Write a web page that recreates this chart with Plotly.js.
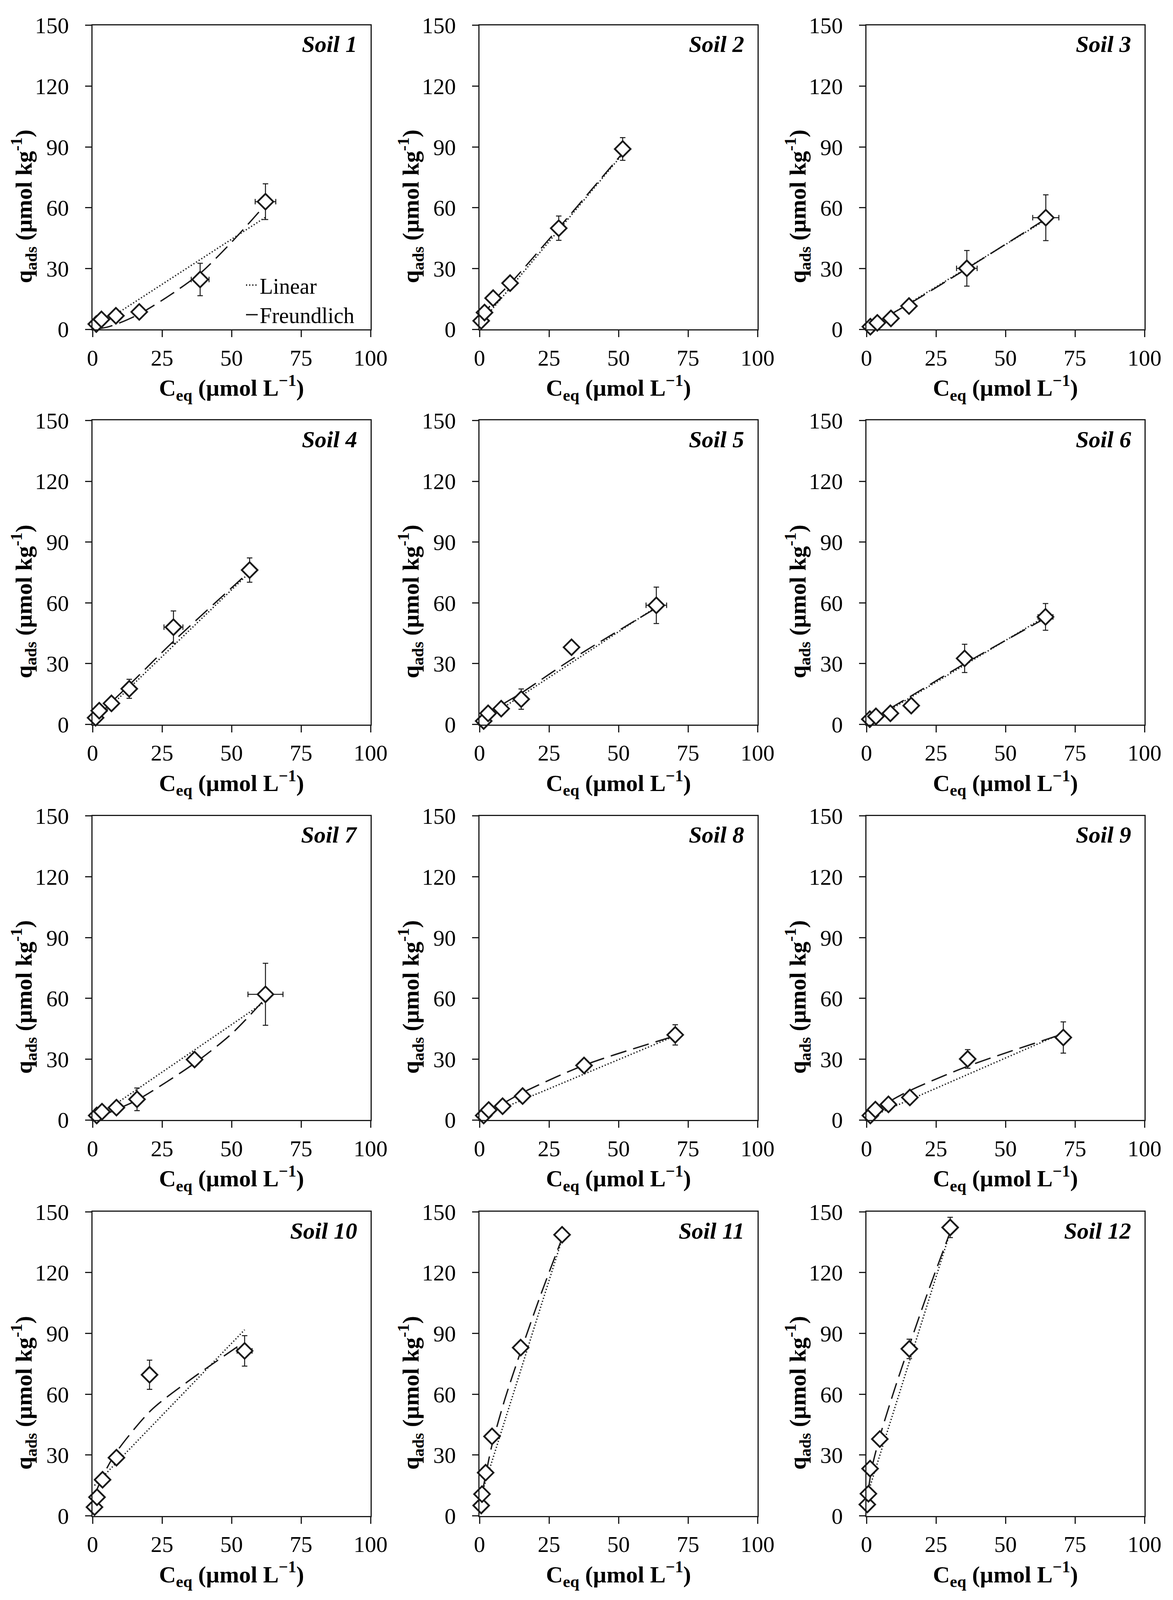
<!DOCTYPE html>
<html>
<head>
<meta charset="utf-8">
<script src="https://cdn.plot.ly/plotly-3.0.1.min.js"></script>
<style>
  html, body { margin: 0; background: white; overflow: hidden; }
</style>
</head>
<body>
<div id="chart"></div>
<script>
// values, one inner list per soil (Soil 1 .. Soil 12)
var soilNames = ['Soil 1', 'Soil 2', 'Soil 3', 'Soil 4', 'Soil 5', 'Soil 6',
                 'Soil 7', 'Soil 8', 'Soil 9', 'Soil 10', 'Soil 11', 'Soil 12'];

// measured points: Ceq (umol/L) and q_ads (umol/kg)
var ceqData = [
    [1.35, 3.2, 8.4, 16.8, 38.7, 62.2],
    [0.6, 1.8, 4.9, 11.0, 28.5, 51.5],
    [1.4, 3.9, 8.8, 15.3, 36.1, 64.5],
    [1.1, 2.4, 6.8, 13.2, 29.1, 56.5],
    [1.5, 3.1, 7.8, 15.0, 33.1, 63.6],
    [1.2, 3.4, 8.6, 16.1, 35.3, 64.4],
    [1.5, 3.4, 8.6, 16.0, 36.7, 62.2],
    [1.5, 3.3, 8.3, 15.5, 37.6, 70.4],
    [1.4, 3.2, 7.9, 15.6, 36.4, 70.8],
    [0.7, 1.6, 3.6, 8.6, 20.5, 54.7],
    [0.6, 0.9, 2.2, 4.5, 14.8, 29.7],
    [0.3, 0.7, 1.3, 4.8, 15.4, 30.1]
];
var qadsData = [
    [2.6, 4.9, 6.7, 8.6, 24.6, 63.0],
    [4.2, 8.3, 15.4, 22.8, 49.9, 89.0],
    [1.3, 3.2, 5.4, 11.5, 30.1, 55.1],
    [3.3, 6.8, 10.4, 17.6, 48.0, 76.2],
    [1.7, 5.5, 7.8, 12.5, 38.1, 58.8],
    [2.6, 4.0, 5.5, 9.3, 32.6, 53.1],
    [2.2, 4.1, 6.1, 10.2, 29.8, 62.0],
    [2.2, 4.9, 6.8, 11.8, 26.9, 42.0],
    [2.2, 5.1, 7.7, 11.1, 30.1, 40.7],
    [4.3, 9.2, 17.8, 28.7, 69.6, 81.4],
    [5.1, 10.7, 21.3, 39.2, 83.0, 138.7],
    [5.6, 10.9, 23.3, 37.9, 82.4, 142.3]
];

// error bars (+/-)
var errQads = [
    [0, 0, 0, 0, 8.0, 8.8],
    [0, 0, 0, 0, 6.0, 5.6],
    [0, 0, 0, 1.5, 8.8, 11.3],
    [0, 0, 0, 4.7, 8.0, 6.0],
    [0, 0, 0, 5.0, 1.5, 9.0],
    [0, 0, 0, 1.0, 7.0, 6.6],
    [0, 0, 0, 5.6, 1.0, 15.3],
    [0, 0, 0, 0, 1.0, 5.0],
    [0, 0, 0, 0, 4.6, 7.7],
    [0, 0, 0, 0, 7.2, 7.5],
    [0, 0, 0, 0, 3.0, 1.5],
    [0, 0, 0, 0, 4.8, 5.0]
];
var errCeq = [
    [0, 0, 0, 0, 3.2, 3.7],
    [0, 0, 0, 0, 0.8, 0.8],
    [0, 0, 0, 0, 3.7, 4.7],
    [0, 0, 0, 0, 3.4, 0.8],
    [0, 0, 0, 0, 0, 3.7],
    [0, 0, 0, 0, 0, 2.7],
    [0, 0, 0, 0, 0, 6.3],
    [0, 0, 0, 0, 0, 1.0],
    [0, 0, 0, 0, 0, 1.5],
    [0, 0, 0, 0, 1.5, 2.7],
    [0, 0, 0, 0, 0, 0],
    [0, 0, 0, 0, 0, 0.8]
];

// linear fit lines (end points)
var linearC = [
    [1.4, 62.2], [0.6, 51.5], [1.4, 64.5], [1.1, 56.5], [1.5, 63.6], [1.2, 64.4],
    [1.5, 62.2], [1.5, 70.4], [1.4, 70.8], [0.7, 54.7], [0.6, 29.7], [0.7, 30.1]
];
var linearQ = [
    [1.2, 55.3], [3.5, 86.5], [1.2, 54.0], [2.0, 75.0], [2.0, 58.0], [1.3, 53.3],
    [1.5, 58.5], [1.9, 41.5], [1.5, 43.0], [15.0, 91.8], [10.0, 136.5], [12.0, 140.0]
];

// Freundlich fit curves
var freundC = [
    [1.4, 5, 10, 17, 28, 39, 50, 62.2],
    [0.6, 5, 11, 28.5, 51.5],
    [1.4, 8.8, 15.3, 36.1, 64.5],
    [1.1, 6.8, 13.2, 29.1, 56.5],
    [1.5, 7.8, 15, 33, 63.6],
    [1.2, 8.6, 16, 35.3, 64.4],
    [1.5, 8.6, 16, 36.7, 50, 62.2],
    [1.5, 8.3, 15.5, 37.6, 70.4],
    [1.4, 7.9, 15.6, 36.4, 70.8],
    [1.6, 4, 8.6, 21, 35, 52.7],
    [0.8, 2.2, 4.5, 9, 14.8, 22, 29.7],
    [0.7, 2, 5, 10, 15.4, 22, 30.1]
];
var freundQ = [
    [0.2, 1.0, 3.3, 7.7, 17, 28, 43, 61.5],
    [4.5, 14, 22.5, 50, 87],
    [1.5, 7.5, 12.5, 30, 54.5],
    [2.5, 11, 19.5, 41, 75.5],
    [2.8, 9.5, 15.5, 32, 57.5],
    [1.8, 8, 14, 30, 52.5],
    [0.8, 5.2, 9.8, 28, 42.5, 60],
    [2.5, 8, 13.5, 27, 41.5],
    [2.5, 8.8, 14.5, 26.5, 42.5],
    [13, 20.5, 31.5, 52, 67, 84],
    [10, 20, 35, 57, 81, 109, 137],
    [13, 24, 40, 62, 84, 110, 140]
];

// reference figure is 3004 x 4353; the window only shows 4096 px in height,
// so the layout is kept in fractions of the reference and drawn at the visible height
var refW = 3004, refH = 4353;
var W = refW;
var H = Math.min(refH, window.innerHeight || refH);
var colLeft = [237, 1228, 2219];     // plot box left edge, px of reference
var rowTop = [69, 1144, 2220, 3297]; // plot box top edge, px of reference
var boxW = 712, boxH = 827;
var ink = '#1a1a1a';
var fontFam = '"Liberation Serif", "Times New Roman", serif';

document.getElementById('chart').style.width = W + 'px';
document.getElementById('chart').style.height = H + 'px';

var data = [];
var layout = {
    width: W,
    height: H,
    margin: {l: 0, r: 0, t: 0, b: 0},
    paper_bgcolor: 'white',
    plot_bgcolor: 'white',
    font: {family: fontFam, color: 'black', size: 58},
    showlegend: true,
    legend: {
        x: 625 / refW,
        y: 1 - 730 / refH,
        xanchor: 'left',
        yanchor: 'top',
        bgcolor: 'rgba(0,0,0,0)',
        borderwidth: 0,
        font: {family: fontFam, size: 56, color: 'black'},
        tracegroupgap: 0
    },
    annotations: []
};

for (var i = 0; i < 12; i++) {
    var col = i % 3;
    var row = Math.floor(i / 3);
    var n = (i === 0) ? '' : String(i + 1);
    var xa = 'x' + n, ya = 'y' + n;

    layout['xaxis' + n] = {
        domain: [colLeft[col] / refW, (colLeft[col] + boxW) / refW],
        anchor: ya,
        range: [0, 100],
        tick0: 0,
        dtick: 25,
        ticks: 'outside',
        ticklen: 17,
        tickwidth: 3,
        tickcolor: ink,
        ticklabelstandoff: 3,
        showline: true,
        mirror: true,
        linecolor: ink,
        linewidth: 3,
        showgrid: false,
        zeroline: false,
        fixedrange: true,
        tickfont: {size: 58},
        title: {
            text: '<b>C<sub>eq</sub> (µmol L<sup>−1</sup>)</b>',
            font: {size: 60},
            standoff: 24
        }
    };
    layout['yaxis' + n] = {
        domain: [1 - (rowTop[row] + boxH) / refH, 1 - rowTop[row] / refH],
        anchor: xa,
        range: [0, 150],
        tick0: 0,
        dtick: 30,
        ticks: 'outside',
        ticklen: 16,
        tickwidth: 3,
        tickcolor: ink,
        ticklabelstandoff: 30,
        showline: true,
        mirror: true,
        linecolor: ink,
        linewidth: 3,
        showgrid: false,
        zeroline: false,
        fixedrange: true,
        tickfont: {size: 58}
    };

    // linear fit
    data.push({
        x: linearC[i],
        y: linearQ[i],
        xaxis: xa,
        yaxis: ya,
        type: 'scatter',
        mode: 'lines',
        name: 'Linear',
        legendgroup: 'lin',
        showlegend: i === 0,
        line: {color: ink, width: 3.5, dash: '3px,5px'},
        hoverinfo: 'skip'
    });

    // Freundlich fit
    data.push({
        x: freundC[i],
        y: freundQ[i],
        xaxis: xa,
        yaxis: ya,
        type: 'scatter',
        mode: 'lines',
        name: 'Freundlich',
        legendgroup: 'fr',
        showlegend: i === 0,
        line: {color: ink, width: 3.5, dash: '42px,18px', shape: 'spline', smoothing: 0.8},
        hoverinfo: 'skip'
    });

    // measured points
    data.push({
        x: ceqData[i],
        y: qadsData[i],
        xaxis: xa,
        yaxis: ya,
        type: 'scatter',
        mode: 'markers',
        showlegend: false,
        cliponaxis: false,
        marker: {
            symbol: 'diamond',
            size: 31,
            color: 'white',
            line: {color: ink, width: 4.5}
        },
        error_y: {type: 'data', array: errQads[i], visible: true, color: ink, thickness: 2.5, width: 7},
        error_x: {type: 'data', array: errCeq[i], visible: true, color: ink, thickness: 2.5, width: 7}
    });

    // soil label, top right inside the box
    layout.annotations.push({
        text: '<b><i>' + soilNames[i] + '</i></b>',
        xref: xa + ' domain',
        yref: ya + ' domain',
        x: 0.955,
        y: 0.938,
        xanchor: 'right',
        yanchor: 'middle',
        showarrow: false,
        font: {family: fontFam, size: 60, color: 'black'}
    });

    // y title sits a little below the middle of the axis, as in the original
    layout.annotations.push({
        text: '<b>q<sub>ads</sub> (µmol kg<sup>-1</sup>)</b>',
        xref: xa + ' domain',
        yref: ya + ' domain',
        x: -0.247,
        y: 0.405,
        xanchor: 'center',
        yanchor: 'middle',
        textangle: -90,
        showarrow: false,
        font: {family: fontFam, size: 60, color: 'black'}
    });
}

Plotly.newPlot('chart', data, layout, {displayModeBar: false, staticPlot: true});
</script>
</body>
</html>
